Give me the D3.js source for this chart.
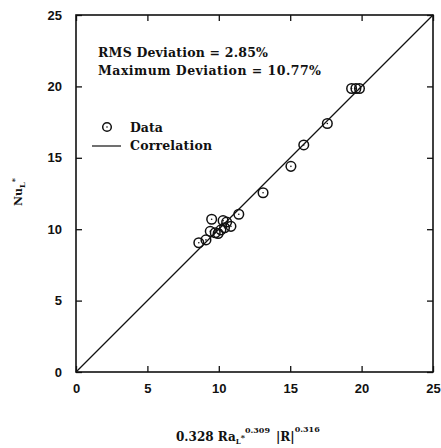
<!DOCTYPE html>
<html>
<head>
<meta charset="utf-8">
<script src="https://cdn.jsdelivr.net/npm/d3@7/dist/d3.min.js"></script>
<style>
  html, body { margin: 0; padding: 0; background: #fff; }
  svg text { fill: #111; }
</style>
</head>
<body>
<svg id="chart" width="441" height="448"></svg>
<script>
// Measured Nusselt numbers vs. correlation prediction
const predicted = [8.6, 9.1, 9.5, 9.4, 9.75, 9.95, 10.15, 10.3, 10.55, 10.4, 10.85, 11.4, 13.1, 15.05, 15.95, 17.6, 19.3, 19.6, 19.85];
const measured  = [9.05, 9.25, 10.7, 9.85, 9.75, 9.7, 9.95, 10.6, 10.5, 10.1, 10.2, 11.05, 12.55, 14.4, 15.9, 17.4, 19.85, 19.85, 19.85];
const correlationLine = [0, 25];
const tickValues = [0, 5, 10, 15, 20, 25];
const annotations = ["RMS Deviation = 2.85%", "Maximum Deviation = 10.77%"];

const svg = d3.select("#chart");
const plotLeft = 76, plotRight = 433, plotTop = 15, plotBottom = 372;

const x = d3.scaleLinear().domain([0, 25]).range([plotLeft, plotRight]);
const y = d3.scaleLinear().domain([0, 25]).range([plotBottom, plotTop]);

const serif = "'DejaVu Serif', 'Liberation Serif', serif";
const sans = "'Liberation Sans', Arial, sans-serif";

// inward ticks on all four sides
function styleAxis(g) {
  g.select(".domain").remove();
  g.selectAll(".tick line").attr("stroke", "#111").attr("stroke-width", 1.3);
}
svg.append("g").attr("transform", `translate(0,${plotBottom})`)
  .call(d3.axisBottom(x).tickValues(tickValues).tickSizeInner(-6).tickSizeOuter(0).tickPadding(12))
  .call(styleAxis)
  .call(g => g.selectAll("text").attr("font-family", sans).attr("font-size", 13).attr("font-weight", "bold").attr("dy", "0.71em"));
svg.append("g").attr("transform", `translate(${plotLeft},0)`)
  .call(d3.axisLeft(y).tickValues(tickValues).tickSizeInner(-6).tickSizeOuter(0).tickPadding(14))
  .call(styleAxis)
  .call(g => g.selectAll("text").attr("font-family", sans).attr("font-size", 13).attr("font-weight", "bold"));
svg.append("g").attr("transform", `translate(0,${plotTop})`)
  .call(d3.axisTop(x).tickValues(tickValues).tickSizeInner(-6).tickSizeOuter(0).tickFormat(""))
  .call(styleAxis);
svg.append("g").attr("transform", `translate(${plotRight},0)`)
  .call(d3.axisRight(y).tickValues(tickValues).tickSizeInner(-6).tickSizeOuter(0).tickFormat(""))
  .call(styleAxis);

// frame
svg.append("rect")
  .attr("x", plotLeft).attr("y", plotTop)
  .attr("width", plotRight - plotLeft).attr("height", plotBottom - plotTop)
  .attr("fill", "none").attr("stroke", "#111").attr("stroke-width", 1.6);

// correlation line
svg.append("line")
  .attr("x1", x(correlationLine[0])).attr("y1", y(correlationLine[0]))
  .attr("x2", x(correlationLine[1])).attr("y2", y(correlationLine[1]))
  .attr("stroke", "#111").attr("stroke-width", 1.2);

// data markers: open circle with centre dot
const pts = svg.append("g").selectAll("g").data(predicted.map((p, i) => [p, measured[i]]))
  .join("g").attr("transform", d => `translate(${x(d[0])},${y(d[1])})`);
pts.append("circle").attr("r", 4.8).attr("fill", "none").attr("stroke", "#111").attr("stroke-width", 1.5);
pts.append("circle").attr("r", 0.8).attr("fill", "#111");

// annotation
svg.append("text").attr("x", 98).attr("y", 57)
  .attr("font-family", serif).attr("font-size", 12.5).attr("font-weight", "bold")
  .attr("textLength", 170).text(annotations[0]);
svg.append("text").attr("x", 98).attr("y", 75)
  .attr("font-family", serif).attr("font-size", 12.5).attr("font-weight", "bold")
  .attr("textLength", 223).text(annotations[1]);

// legend
const lg = svg.append("g");
lg.append("circle").attr("cx", 107).attr("cy", 127).attr("r", 4.3).attr("fill", "none").attr("stroke", "#111").attr("stroke-width", 1.5);
lg.append("circle").attr("cx", 107).attr("cy", 127).attr("r", 0.8).attr("fill", "#111");
lg.append("text").attr("x", 130).attr("y", 132)
  .attr("font-family", serif).attr("font-size", 12.5).attr("font-weight", "bold").text("Data");
lg.append("line").attr("x1", 92).attr("x2", 121).attr("y1", 146).attr("y2", 146)
  .attr("stroke", "#111").attr("stroke-width", 1.2);
lg.append("text").attr("x", 130).attr("y", 150)
  .attr("font-family", serif).attr("font-size", 12.5).attr("font-weight", "bold")
  .attr("textLength", 82).text("Correlation");

// y-axis title: Nu_L*
const yt = svg.append("text")
  .attr("transform", "translate(22,206) rotate(-90)")
  .attr("font-family", serif).attr("font-size", 11).attr("font-weight", "bold");
yt.append("tspan").text("Nu");
yt.append("tspan").attr("dy", 3).attr("font-size", 8).text("L");
yt.append("tspan").attr("dy", -8).attr("font-size", 8).text("*");

// x-axis title
const xt = svg.append("text").attr("x", 176).attr("y", 441)
  .attr("font-family", serif).attr("font-size", 12).attr("font-weight", "bold");
xt.append("tspan").text("0.328 Ra");
xt.append("tspan").attr("dy", 3).attr("font-size", 7).text("L");
xt.append("tspan").attr("dy", -4).attr("font-size", 8).text("*");
xt.append("tspan").attr("dy", -7).attr("font-size", 8).text("0.309");
xt.append("tspan").attr("dy", 8).attr("dx", 6).attr("font-size", 12).text("|R|");
xt.append("tspan").attr("dy", -9).attr("font-size", 8).text("0.316");
</script>
</body>
</html>
